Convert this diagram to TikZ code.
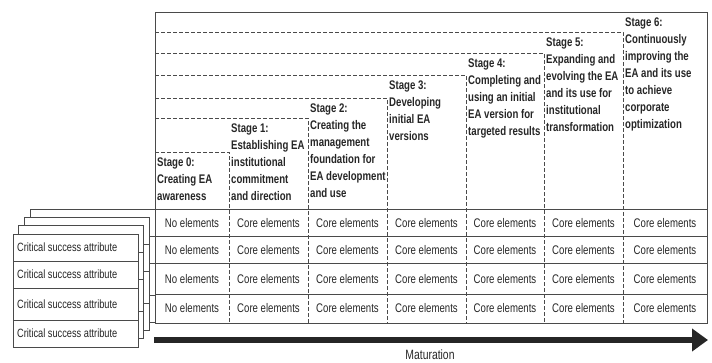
\documentclass[tikz,border=0pt]{standalone}
\usepackage{fontspec}
\setmainfont{Liberation Sans}[FakeStretch=0.77]
\usetikzlibrary{arrows.meta}
\definecolor{ln}{HTML}{4A4A4A}
\definecolor{txt}{HTML}{262626}
\tikzset{
  solidline/.style={draw=ln, line width=0.9pt},
  dashline/.style={draw=ln, line width=0.9pt, dash pattern=on 3.5pt off 2.5pt},
  stagetext/.style={anchor=north west, align=left, inner sep=0pt, text=txt,
     font=\bfseries\fontsize{12.5}{17}\selectfont},
  celltext/.style={anchor=center, inner sep=0pt, text=txt, font=\fontsize{12.5}{14}\selectfont},
  cardtext/.style={anchor=west, inner sep=0pt, text=txt, font=\fontsize{12}{14}\selectfont},
  cardbox/.style={draw=ln, fill=white, line width=0.9pt},
}
\begin{document}
\begin{tikzpicture}[x=1pt,y=-1pt]
\useasboundingbox (0,0) rectangle (712,362);

% ---- stacked cards (back to front)
\foreach \k in {3,2,1,0}{
  \begin{scope}[shift={({\k*5.67},{-\k*8.33})}]
    \draw[cardbox] (13,234) rectangle (138,347);
    \draw[solidline] (13,261) -- (138,261);
    \draw[solidline] (13,288) -- (138,288);
    \draw[solidline] (13,320) -- (138,320);
  \end{scope}
}
\node[cardtext] (c1) at (17,247.5) {Critical success attribute};
\node[cardtext] (c2) at (17,274.5) {Critical success attribute};
\node[cardtext] (c3) at (17,304) {Critical success attribute};
\node[cardtext] (c4) at (17,333.5) {Critical success attribute};

% ---- stage boundaries (dashed)
\draw[dashline] (155,152) -- (229,152) -- (229,323);
\draw[dashline] (155,118) -- (308,118) -- (308,323);
\draw[dashline] (155,98) -- (387,98) -- (387,323);
\draw[dashline] (155,75) -- (466,75) -- (466,323);
\draw[dashline] (155,53) -- (544,53) -- (544,323);
\draw[dashline] (155,32) -- (623,32) -- (623,323);

% ---- row lines and frame
\foreach \y in {209,236,263,294}{
  \draw[solidline] (155,\y) -- (707,\y);
}
\draw[solidline] (155,12) rectangle (707,323);

% ---- stage texts
\node[stagetext] (s0) at (157,157.3) {Stage 0:\\Creating EA\\awareness};
\node[stagetext] (s1) at (231,123.3) {Stage 1:\\Establishing EA\\institutional\\commitment\\and direction};
\node[stagetext] (s2) at (310,103.3) {Stage 2:\\Creating the\\management\\foundation for\\EA development\\and use};
\node[stagetext] (s3) at (389,80.3) {Stage 3:\\Developing\\initial EA\\versions};
\node[stagetext] (s4) at (468,58.3) {Stage 4:\\Completing and\\using an initial\\EA version for\\targeted results};
\node[stagetext] (s5) at (546,37.3) {Stage 5:\\Expanding and\\evolving the EA\\and its use for\\institutional\\transformation};
\node[stagetext] (s6) at (625,17.3) {Stage 6:\\Continuously\\improving the\\EA and its use\\to achieve\\corporate\\optimization};

% ---- cells
\foreach \r/\yc in {1/223,2/250,3/279,4/308.5}{
  \node[celltext] (r\r c0) at (192,\yc) {No elements};
  \foreach \c/\xc in {1/268.5,2/347.5,3/426.5,4/505,5/583.5,6/665}{
    \node[celltext] (r\r c\c) at (\xc,\yc) {Core elements};
  }
}

% ---- maturation arrow
\coordinate (ma) at (154,340);
\coordinate (mb) at (708,340);
\draw[draw=txt, line width=5.5pt, -{Triangle[length=16pt,width=22pt]}] (ma) -- (mb);
\node[celltext, font=\fontsize{13.5}{15}\selectfont] (mat) at (430,355) {Maturation};
\end{tikzpicture}
\end{document}
